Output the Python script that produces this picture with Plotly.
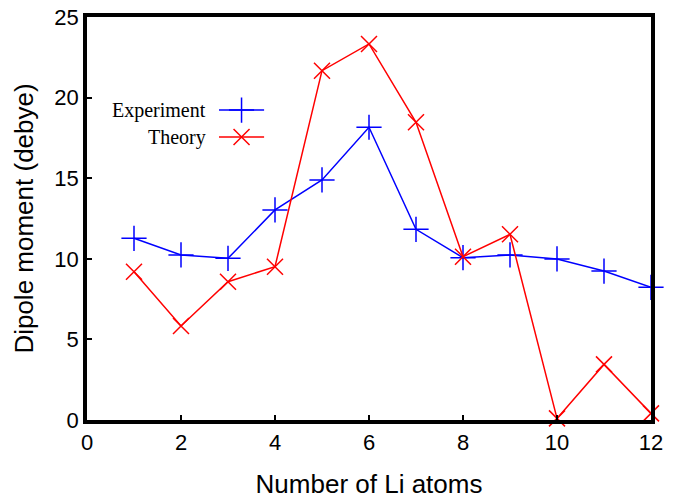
import plotly.graph_objects as go

# ── data ──
n_atoms = [1, 2, 3, 4, 5, 6, 7, 8, 9, 10, 11, 12]
experiment = [11.27, 10.24, 10.03, 13.03, 14.89, 18.16, 11.83, 10.07, 10.24, 9.99, 9.24, 8.23]
theory = [9.2, 5.83, 8.58, 9.51, 21.67, 23.33, 18.47, 10.13, 11.52, 0.1, 3.45, 0.41]

BLUE = '#0000ff'
RED = '#ff0000'
SANS = 'Liberation Sans Narrow, Liberation Sans, Arial, sans-serif'
SERIF = 'Liberation Serif, Times New Roman, serif'

fig = go.Figure()

fig.add_trace(go.Scatter(
    x=n_atoms, y=experiment, mode='lines+markers', name='Experiment',
    line=dict(color=BLUE, width=1.5),
    marker=dict(symbol='cross-thin', size=18, line=dict(color=BLUE, width=1.5)),
    cliponaxis=False, showlegend=False,
))
fig.add_trace(go.Scatter(
    x=n_atoms, y=theory, mode='lines+markers', name='Theory',
    line=dict(color=RED, width=1.5),
    marker=dict(symbol='x-thin', size=16, line=dict(color=RED, width=1.5)),
    cliponaxis=False, showlegend=False,
))

# gnuplot-style key: text right-aligned, sample on the right
key = [('Experiment', BLUE, 'cross-thin', 18, 0.769), ('Theory', RED, 'x-thin', 16, 0.702)]
for label, col, sym, sz, ky in key:
    fig.add_shape(type='line', xref='paper', yref='paper',
                  x0=0.234, x1=0.314, y0=ky, y1=ky,
                  line=dict(color=col, width=1.5))
    fig.add_trace(go.Scatter(
        x=[0.274], y=[ky], xaxis='x2', yaxis='y2', mode='markers',
        marker=dict(symbol=sym, size=sz, line=dict(color=col, width=1.5)),
        showlegend=False, hoverinfo='skip',
    ))
    fig.add_annotation(text=label, xref='paper', yref='paper',
                       x=0.215, y=ky, xanchor='right', yanchor='middle',
                       showarrow=False, font=dict(family=SERIF, size=20, color='black'))

fig.update_layout(
    width=682, height=500,
    paper_bgcolor='white', plot_bgcolor='white',
    margin=dict(l=87, r=31, t=17, b=80),
    font=dict(family=SANS, size=22, color='black'),
    xaxis=dict(
        range=[0, 12], dtick=2, showgrid=False, zeroline=False, automargin=False,
        showline=True, mirror=True, linecolor='black', linewidth=3.5,
        ticks='inside', ticklen=5, tickwidth=2, tickcolor='black',
        title=dict(text='Number of Li atoms', standoff=22),
    ),
    yaxis=dict(
        range=[0, 25], dtick=5, showgrid=False, zeroline=False, automargin=False,
        showline=True, mirror=True, linecolor='black', linewidth=3.5,
        ticks='inside', ticklen=5, tickwidth=2, tickcolor='black',
        title=dict(text='Dipole moment (debye)', standoff=14),
    ),
    xaxis2=dict(range=[0, 1], overlaying='x', visible=False),
    yaxis2=dict(range=[0, 1], overlaying='y', visible=False),
)

# drop the default 8px body margin so the figure sits at the page origin
fig.write_html("out.html", config={'displayModeBar': False},
               post_script="document.body.style.margin='0';")
